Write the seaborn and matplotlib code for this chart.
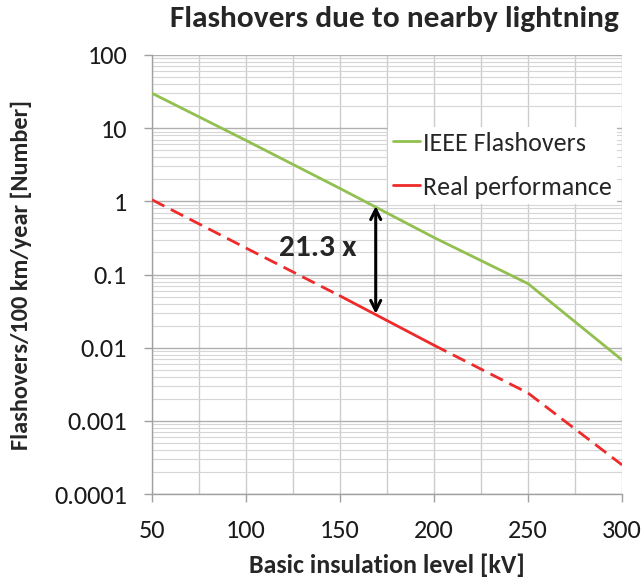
import matplotlib
matplotlib.use("Agg")
import matplotlib.pyplot as plt
import seaborn as sns
import pandas as pd
import numpy as np
from matplotlib.lines import Line2D
from matplotlib.ticker import LogLocator, FixedLocator, NullFormatter
from matplotlib import font_manager as fm

bil_kv = [50, 100, 150, 200, 250, 300]
ieee_flashovers = [30, 6.8, 1.5, 0.32, 0.075, 0.0068]
real_performance = [1.05, 0.23, 0.051, 0.0108, 0.0024, 0.00025]
real_solid_range = (150, 200)
arrow_x = 169
arrow_top = 0.86
arrow_bottom = 0.029
ratio_label = "21.3 x"
ratio_pos = (138, 0.23)
y_ticks = [0.0001, 0.001, 0.01, 0.1, 1, 10, 100]
y_tick_labels = ["0.0001", "0.001", "0.01", "0.1", "1", "10", "100"]
x_ticks = [50, 100, 150, 200, 250, 300]
series_names = ["IEEE Flashovers", "Real performance"]

sns.set_theme(style="white")
avail = {f.name for f in fm.fontManager.ttflist}
fam = next((f for f in ["Carlito", "Lato"] if f in avail), "DejaVu Sans")
plt.rcParams['font.family'] = [fam, 'DejaVu Sans']

df = pd.DataFrame({"bil": bil_kv, "ieee": ieee_flashovers, "real": real_performance})

W, H = 643, 581
PT = 72 / 100  # points per pixel
fig = plt.figure(figsize=(W / 100, H / 100), dpi=100)
AX_L, AX_R, AX_T, AX_B = 152, 622, 55, 494
AW, AH = AX_R - AX_L, AX_B - AX_T
ax = fig.add_axes([AX_L / W, (H - AX_B) / H, AW / W, AH / H])
ax.set_yscale("log")

green = "#92c050"
red = "#ee2a2a"
dash = (0, (5, 2.6))

sns.lineplot(data=df, x="bil", y="ieee", ax=ax, color=green, lw=2, zorder=3)
lo, hi = real_solid_range
d1 = df[df.bil <= lo]
d2 = df[(df.bil >= lo) & (df.bil <= hi)]
d3 = df[df.bil >= hi]
sns.lineplot(data=d1, x="bil", y="real", ax=ax, color=red, lw=2, zorder=3)
ax.lines[-1].set_linestyle(dash)
sns.lineplot(data=d2, x="bil", y="real", ax=ax, color=red, lw=2, zorder=3)
sns.lineplot(data=d3, x="bil", y="real", ax=ax, color=red, lw=2, zorder=3)
ax.lines[-1].set_linestyle(dash)

ax.set_xlim(50, 300)
ax.set_ylim(0.0001, 100)

ax.xaxis.set_major_locator(FixedLocator(x_ticks))
ax.xaxis.set_minor_locator(FixedLocator([75, 125, 175, 225, 275]))
ax.yaxis.set_major_locator(FixedLocator(y_ticks))
ax.set_yticklabels(y_tick_labels)
ax.yaxis.set_minor_locator(LogLocator(base=10, subs=np.arange(2, 10)))
ax.yaxis.set_minor_formatter(NullFormatter())

ax.grid(True, which="major", axis="y", color="#b0b0b0", lw=1.0)
ax.grid(True, which="minor", axis="y", color="#d6d6d6", lw=0.8)
ax.grid(True, which="both", axis="x", color="#cccccc", lw=1.0)
ax.tick_params(axis="both", which="minor", length=0)
ax.tick_params(axis="both", which="major", length=6, width=1, color="#a0a0a0",
               direction="out", labelsize=15, labelcolor="#1a1a1a")
ax.tick_params(axis="x", which="major", bottom=True, pad=12)
ax.tick_params(axis="y", which="major", left=True, pad=12)
for s in ["top", "right"]:
    ax.spines[s].set_visible(False)
for s in ["left", "bottom"]:
    ax.spines[s].set_color("#a0a0a0")
    ax.spines[s].set_linewidth(1)

xl = ax.set_xlabel("Basic insulation level [kV]", fontsize=15, fontweight="bold")
yl = ax.set_ylabel("Flashovers/100 km/year [Number]", fontsize=15, fontweight="bold")
tt = ax.set_title("Flashovers due to nearby lightning", fontsize=15, fontweight="bold",
                  loc="center", pad=0, x=(394 - AX_L) / AW, y=1 + (AX_T - 27) / AH)

ax.annotate("", xy=(arrow_x, arrow_top), xytext=(arrow_x, arrow_bottom),
            arrowprops=dict(arrowstyle="<->", color="black", lw=2.2,
                            mutation_scale=18, shrinkA=0, shrinkB=0), zorder=4)
rt = ax.text(ratio_pos[0], ratio_pos[1], ratio_label, fontsize=15, fontweight="bold",
             ha="center", va="center", zorder=5)

fig.canvas.draw()
r = fig.canvas.get_renderer()

def fit(t, target, horiz=True):
    bb = t.get_window_extent(r)
    cur = bb.width if horiz else bb.height
    t.set_fontsize(t.get_fontsize() * target / cur)

fit(tt, 450)
fit(xl, 277)
fit(yl, 351, horiz=False)
fit(rt, 78)
tl = [t for t in ax.get_yticklabels() if t.get_text() == "0.0001"][0]
tick_size = 15 * 73 / tl.get_window_extent(r).width
ax.tick_params(axis="both", which="major", labelsize=tick_size)

# axis label placement (baseline-anchored)
xl.set_verticalalignment("baseline")
ax.xaxis.set_label_coords(0.5, -(573 - AX_B) / AH)
yl.set_verticalalignment("baseline")
ax.yaxis.set_label_coords((28 - AX_L) / AW, 0.5)

# adjust tick label pads to match reference positions
fig.canvas.draw()
xt = [t for t in ax.get_xticklabels() if t.get_text()][0].get_window_extent(r)
x_center_px = H - (xt.y0 + xt.y1) / 2
ax.tick_params(axis="x", which="major", pad=12 + (531 - x_center_px) * PT)
yt = [t for t in ax.get_yticklabels() if t.get_text() == "100"][0].get_window_extent(r)
ax.tick_params(axis="y", which="major", pad=12 + (yt.x1 - 127) * PT)

# legend
handles = [Line2D([0], [0], color=green, lw=2), Line2D([0], [0], color=red, lw=2)]

def make_legend(fs, spacing, anchor_y):
    fpx = fs / PT
    return ax.legend(handles, series_names, loc="upper left",
                     bbox_to_anchor=(388 / W, anchor_y), bbox_transform=fig.transFigure,
                     frameon=True, fontsize=fs, handlelength=27 / fpx,
                     handletextpad=3 / fpx, labelspacing=spacing,
                     borderpad=5 / fpx, borderaxespad=0, fancybox=False, framealpha=1)

leg_fs, spacing, anchor_y = 15, 1.0, 1 - 117 / H
leg = make_legend(leg_fs, spacing, anchor_y)
fig.canvas.draw()
leg_fs = leg_fs * 189 / leg.get_texts()[1].get_window_extent(r).width
leg = make_legend(leg_fs, spacing, anchor_y)
fig.canvas.draw()
b0 = leg.get_texts()[0].get_window_extent(r)
b1 = leg.get_texts()[1].get_window_extent(r)
diff = ((b0.y0 + b0.y1) - (b1.y0 + b1.y1)) / 2
spacing = spacing + (44 - diff) / (leg_fs / PT)
leg = make_legend(leg_fs, spacing, anchor_y)
fig.canvas.draw()
b0 = leg.get_texts()[0].get_window_extent(r)
c0 = H - (b0.y0 + b0.y1) / 2
anchor_y = anchor_y + (c0 - 143) / H
leg = make_legend(leg_fs, spacing, anchor_y)
leg.get_frame().set_edgecolor("white")
leg.get_frame().set_linewidth(0)

fig.savefig("out.png", dpi=100)
